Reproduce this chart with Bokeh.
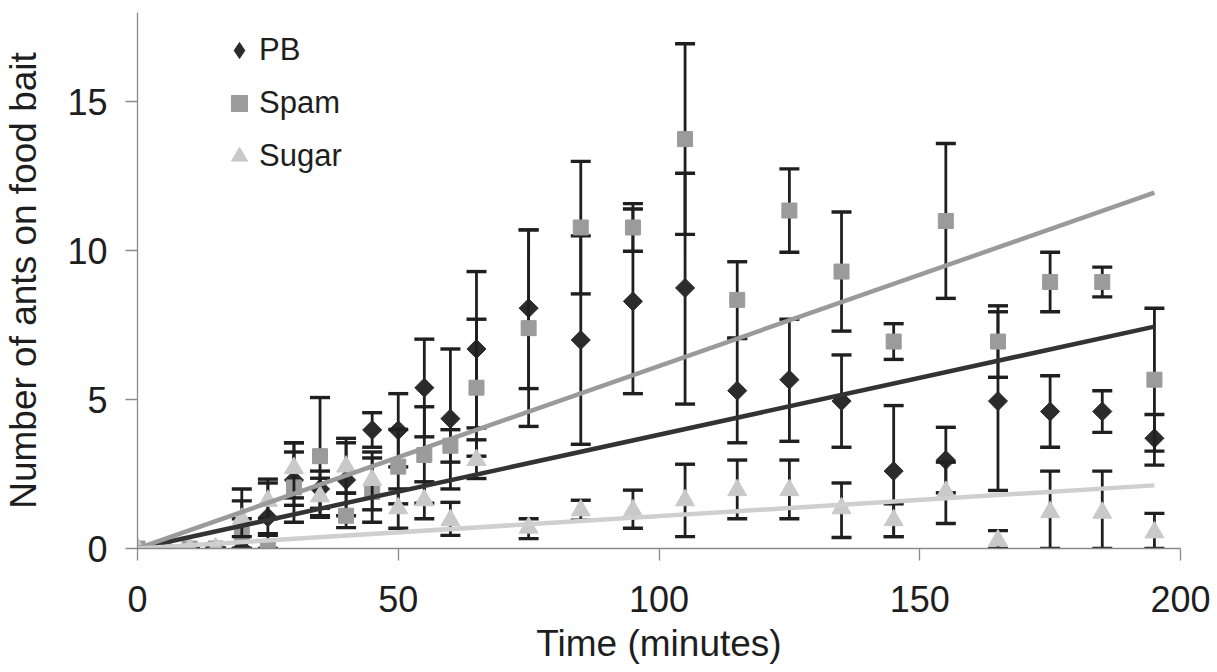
import math
from bokeh.plotting import figure
from bokeh.models import Legend, LegendItem, Range1d, FixedTicker
from bokeh.embed import file_html
from bokeh.resources import INLINE

# ---------------- data ----------------
TIME = [0, 5, 10, 15, 20, 25, 30, 35, 40, 45, 50, 55, 60, 65, 75, 85, 95, 105,
        115, 125, 135, 145, 155, 165, 175, 185, 195]

PB_MEAN = [0, 0, 0, 0, 0, 1.05, 2.3, 2.0, 2.3, 3.98, 3.97, 5.4, 4.36, 6.7, 8.07, 7.0,
           8.3, 8.75, 5.3, 5.67, 4.95, 2.6, 2.97, 4.95, 4.6, 4.6, 3.7]
PB_LO = [0, 0, 0, 0, 0, 0.5, 1.45, 1.35, 1.1, 3.4, 2.74, 3.75, 2.0, 4.05, 5.37, 3.5,
         5.2, 4.85, 3.55, 3.6, 3.4, 0.4, 1.87, 1.95, 3.4, 3.9, 2.8]
PB_HI = [0, 0, 0, 0, 2.0, 2.33, 3.24, 2.6, 3.55, 4.56, 5.2, 7.03, 6.7, 9.3, 10.7, 10.5,
         11.4, 12.6, 7.05, 7.7, 6.5, 4.8, 4.07, 7.95, 5.8, 5.3, 4.5]

SPAM_MEAN = [0, 0, 0, 0, 0.5, 0, 2.05, 3.1, 1.1, 1.9, 2.75, 3.14, 3.45, 5.4, 7.4, 10.78,
             10.78, 13.75, 8.35, 11.35, 9.3, 6.95, 11.0, 6.95, 8.95, 8.95, 5.67]
SPAM_LO = [0, 0, 0, 0, 0, 0, 0.88, 1.1, 0.7, 0.88, 1.5, 1.52, 2.9, 3.1, 4.1, 8.55,
           9.98, 10.55, 7.07, 9.95, 7.3, 6.35, 8.4, 5.75, 7.95, 8.45, 3.27]
SPAM_HI = [0, 0, 0, 0, 1.0, 0.44, 3.55, 5.07, 1.86, 3.04, 4.0, 4.76, 3.99, 7.7, 10.7, 13.0,
           11.58, 16.95, 9.63, 12.75, 11.3, 7.55, 13.6, 8.15, 9.95, 9.45, 8.07]

SUGAR_MEAN = [0, 0, 0, 0, 1.0, 1.6, 2.7, 1.75, 2.75, 2.3, 1.35, 1.62, 0.95, 2.97, 0.7, 1.28,
              1.28, 1.62, 1.96, 1.96, 1.35, 0.95, 1.9, 0.27, 1.22, 1.2, 0.54]
SUGAR_LO = [0, 0, 0, 0, 0.4, 1.0, 1.7, 1.05, 1.86, 1.3, 0.68, 1.0, 0.44, 2.35, 0.33, 0.95,
            0.68, 0.4, 1.0, 1.0, 0.37, 0.4, 0.84, 0, 0, 0, 0]
SUGAR_HI = [0, 0, 0, 0, 1.6, 2.2, 3.55, 2.36, 3.7, 3.24, 2.0, 2.24, 1.55, 3.65, 1.0, 1.62,
            1.96, 2.83, 2.97, 2.97, 2.2, 1.5, 2.9, 0.6, 2.6, 2.6, 1.18]

# linear trend lines (start and end values)
TREND_TIME = [0, 195]
PB_TREND = [0, 7.45]
SPAM_TREND = [0, 11.95]
SUGAR_TREND = [0, 2.12]

SERIES_NAMES = ["PB", "Spam", "Sugar"]
X_TICKS = [0, 50, 100, 150, 200]
Y_TICKS = [0, 5, 10, 15]

# ---------------- styles ----------------
FONT = "Liberation Sans"
ERR_COLOR = "#1f1f1f"
PB_COLOR = "#2b2b2b"
SPAM_COLOR = "#9b9b9b"
SUGAR_COLOR = "#c9c9c9"

p = figure(width=1217, height=672,
           x_range=Range1d(0, 200), y_range=Range1d(0, 18),
           output_backend="svg", toolbar_location=None,
           min_border_left=137, min_border_right=37,
           min_border_top=12, min_border_bottom=124)

p.xgrid.visible = False
p.ygrid.visible = False
p.outline_line_color = None
p.background_fill_color = "white"
p.border_fill_color = "white"

for ax in (p.xaxis[0], p.yaxis[0]):
    ax.axis_line_color = "#8a8a8a"
    ax.axis_line_width = 1.3
    ax.major_tick_line_color = "#8a8a8a"
    ax.major_tick_line_width = 1.3
    ax.major_tick_out = 12
    ax.major_tick_in = 0
    ax.minor_tick_line_color = None
    ax.major_label_text_font = FONT
    ax.major_label_text_font_size = "36px"
    ax.major_label_text_color = "#1e1e1e"
    ax.axis_label_text_font = FONT
    ax.axis_label_text_font_size = "37px"
    ax.axis_label_text_font_style = "normal"
    ax.axis_label_text_color = "#1e1e1e"

p.xaxis.ticker = FixedTicker(ticks=X_TICKS)
p.yaxis.ticker = FixedTicker(ticks=Y_TICKS)
p.xaxis.axis_label = "Time (minutes)"
p.yaxis.axis_label = "Number of ants on food bait"
p.xaxis.major_label_standoff = 25
p.xaxis.axis_label_standoff = 8
p.yaxis.major_label_standoff = 18
p.yaxis.axis_label_standoff = 20


def error_bars(lo, hi):
    p.segment(x0=TIME, y0=lo, x1=TIME, y1=hi, line_color=ERR_COLOR, line_width=2.8)
    p.scatter(x=TIME, y=lo, marker="dash", size=20, line_color=ERR_COLOR, line_width=3.4)
    p.scatter(x=TIME, y=hi, marker="dash", size=20, line_color=ERR_COLOR, line_width=3.4)


error_bars(PB_LO, PB_HI)
# diamond glyph (hidden under the rotated squares) used for the legend entry
pb_legend_r = p.scatter(x=TIME, y=PB_MEAN, marker="diamond", size=17,
                        fill_color=PB_COLOR, line_color=PB_COLOR)
pb_r = p.scatter(x=TIME, y=PB_MEAN, marker="square", angle=math.pi / 4, size=13.5,
                 fill_color=PB_COLOR, line_color=PB_COLOR)
error_bars(SPAM_LO, SPAM_HI)
spam_r = p.scatter(x=TIME, y=SPAM_MEAN, marker="square", size=15,
                   fill_color=SPAM_COLOR, line_color=SPAM_COLOR)
error_bars(SUGAR_LO, SUGAR_HI)
sugar_r = p.scatter(x=TIME, y=SUGAR_MEAN, marker="triangle", size=19,
                    fill_color=SUGAR_COLOR, line_color=SUGAR_COLOR)

p.line(x=TREND_TIME, y=PB_TREND, line_color="#333333", line_width=4.5)
p.line(x=TREND_TIME, y=SPAM_TREND, line_color="#9a9a9a", line_width=4.5)
p.line(x=TREND_TIME, y=SUGAR_TREND, line_color="#cfcfcf", line_width=4.5)

legend = Legend(
    items=[LegendItem(label=SERIES_NAMES[0], renderers=[pb_legend_r]),
           LegendItem(label=SERIES_NAMES[1], renderers=[spam_r]),
           LegendItem(label=SERIES_NAMES[2], renderers=[sugar_r])],
    location=(82, 372),
    glyph_width=40, glyph_height=40, spacing=13, padding=0, margin=0,
    label_standoff=0,
    background_fill_alpha=0, border_line_alpha=0,
    label_text_font=FONT, label_text_font_size="31px", label_text_color="#1e1e1e",
)
p.add_layout(legend)

open("out.html", "w").write(file_html(p, INLINE))
